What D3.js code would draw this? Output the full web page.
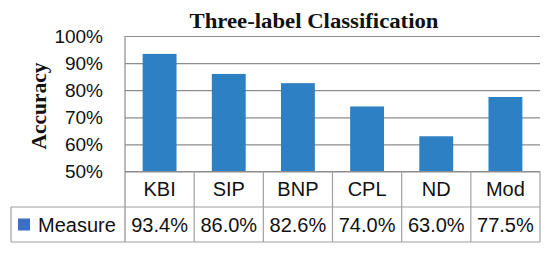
<!DOCTYPE html>
<html><head><meta charset="utf-8">
<script src="https://cdn.jsdelivr.net/npm/d3@7"></script>
<style>html,body{margin:0;padding:0;background:#fff;}svg{display:block;}</style>
</head><body>
<script>
const categories = ["KBI","SIP","BNP","CPL","ND","Mod"];
const values = [0.934,0.860,0.826,0.740,0.630,0.775];
const valueLabels = ["93.4%","86.0%","82.6%","74.0%","63.0%","77.5%"];
const yTicks = [0.5,0.6,0.7,0.8,0.9,1.0];
const seriesName = "Measure";
const titleText = "Three-label Classification";
const yTitle = "Accuracy";

(function () {
const W = 550, H = 255;
const svg = d3.select("body").append("svg").attr("width", W).attr("height", H);
const pLeft = 125, pRight = 540, pTop = 36, pBottom = 171.5;
const row1 = 207, row2 = 242, tableLeft = 11;
const gridColor = "#8c8c8c", tableColor = "#a0a0a0";

const x = d3.scaleBand().domain(categories).range([pLeft, pRight]).padding(0);
const y = d3.scaleLinear().domain([0.5, 1.0]).range([pBottom, pTop]);

// gridlines + tick labels
const yAxis = d3.axisLeft(y).tickValues(yTicks).tickFormat(d3.format(".0%"))
  .tickSize(-(pRight - pLeft)).tickPadding(22);
const ga = svg.append("g").attr("transform", `translate(${pLeft},0)`).call(yAxis);
ga.select(".domain").remove();
ga.selectAll(".tick line").attr("stroke", gridColor).attr("stroke-width", 1.2);
ga.selectAll(".tick text").attr("font-family", "Liberation Sans, Arial, sans-serif")
  .attr("font-size", 19).attr("fill", "#111");

// bars
svg.append("g").selectAll("rect").data(categories).join("rect")
  .attr("x", d => x(d) + x.bandwidth() * 0.255)
  .attr("width", x.bandwidth() * 0.49)
  .attr("y", (d, i) => y(values[i]))
  .attr("height", (d, i) => y(0.5) - y(values[i]))
  .attr("fill", "#2e80c4");

// table lines
const lines = svg.append("g").attr("stroke", tableColor).attr("stroke-width", 1.2);
lines.append("line").attr("x1", pLeft).attr("x2", pLeft).attr("y1", pTop).attr("y2", row2).attr("stroke", gridColor);
lines.append("line").attr("x1", pLeft).attr("x2", pRight).attr("y1", pBottom).attr("y2", pBottom).attr("stroke", gridColor);
lines.append("line").attr("x1", tableLeft).attr("x2", pRight).attr("y1", row1).attr("y2", row1);
lines.append("line").attr("x1", tableLeft).attr("x2", pRight).attr("y1", row2).attr("y2", row2);
lines.append("line").attr("x1", tableLeft).attr("x2", tableLeft).attr("y1", row1).attr("y2", row2);
categories.forEach(c => {
  const xx = x(c) + x.bandwidth();
  lines.append("line").attr("x1", xx).attr("x2", xx).attr("y1", pBottom).attr("y2", row2);
});

const sans = "Liberation Sans, Arial, sans-serif";
// category labels
svg.append("g").selectAll("text").data(categories).join("text")
  .attr("x", d => x(d) + x.bandwidth() / 2).attr("y", (pBottom + row1) / 2)
  .attr("dy", "0.35em").attr("text-anchor", "middle")
  .attr("font-family", sans).attr("font-size", 20).attr("fill", "#111").text(d => d);
// value labels
svg.append("g").selectAll("text").data(categories).join("text")
  .attr("x", d => x(d) + x.bandwidth() / 2).attr("y", (row1 + row2) / 2)
  .attr("dy", "0.35em").attr("text-anchor", "middle")
  .attr("font-family", sans).attr("font-size", 20).attr("fill", "#111").text((d, i) => valueLabels[i]);

// legend key
svg.append("rect").attr("x", 18).attr("y", 218.5).attr("width", 12).attr("height", 12).attr("fill", "#3a6fc3");
svg.append("text").attr("x", 38).attr("y", (row1 + row2) / 2).attr("dy", "0.35em")
  .attr("font-family", sans).attr("font-size", 20).attr("fill", "#111").text(seriesName);

// title
svg.append("text").attr("x", 314).attr("y", 28).attr("text-anchor", "middle")
  .attr("font-family", "Liberation Serif, Times New Roman, serif").attr("font-weight", "bold")
  .attr("font-size", 20).attr("textLength", 249).attr("lengthAdjust", "spacingAndGlyphs")
  .attr("fill", "#111").text(titleText);

// y title
svg.append("text").attr("transform", "translate(46,106) rotate(-90)").attr("text-anchor", "middle")
  .attr("font-family", "Liberation Serif, Times New Roman, serif").attr("font-weight", "bold")
  .attr("font-size", 20).attr("textLength", 87).attr("lengthAdjust", "spacingAndGlyphs")
  .attr("fill", "#111").text(yTitle);
})();
</script>
</body></html>
